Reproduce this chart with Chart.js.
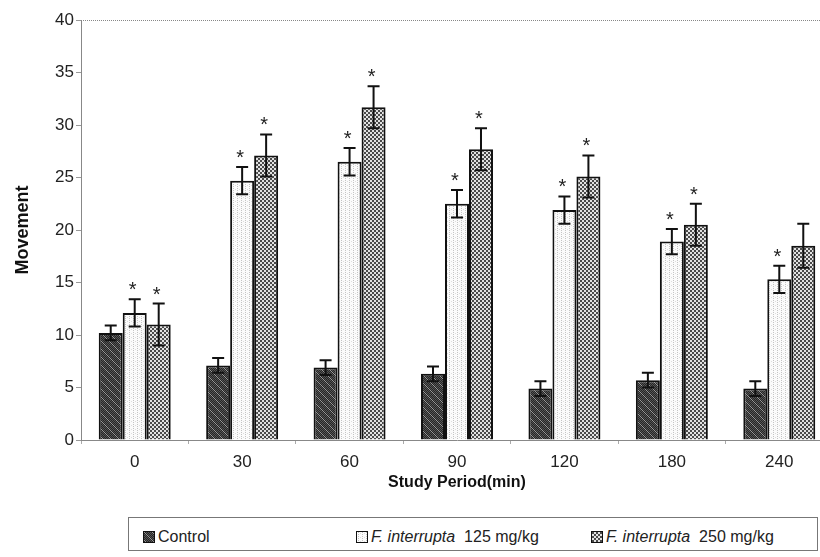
<!DOCTYPE html>
<html>
<head>
<meta charset="utf-8">
<script src="https://cdn.jsdelivr.net/npm/chart.js@4/dist/chart.umd.min.js"></script>
<style>
  body { margin: 0; background: #fff; overflow: hidden; font-family: "Liberation Sans", Arial, sans-serif; }
  #wrap { position: relative; width: 820px; height: 557px; overflow: hidden; }
  #chart { position: absolute; left: 0; top: 0; }
  #legend {
    position: absolute; left: 128px; top: 517px; width: 688px; height: 32px;
    border: 1px solid #777; font-size: 16px; color: #222;
  }
  .item { position: absolute; top: 10px; white-space: nowrap; }
  .sw { display: inline-block; width: 10px; height: 10px; border: 1px solid #111; margin-right: 3px; vertical-align: -1px; }
</style>
</head>
<body>
<div id="wrap">
  <canvas id="chart" width="834" height="492"></canvas>
  <div id="legend"></div>
</div>
<script>
// 横轴类别（分钟）
const periods = ['0', '30', '60', '90', '120', '180', '240'];

// 各组均值
const controlValues = [10.2, 7.1, 6.9, 6.3, 4.9, 5.7, 4.9];
const dose125Values = [12.1, 24.7, 26.5, 22.5, 21.9, 18.9, 15.3];
const dose250Values = [11.0, 27.1, 31.7, 27.7, 25.1, 20.5, 18.5];

// 误差（SEM）
const controlErrors = [0.7, 0.7, 0.7, 0.7, 0.7, 0.7, 0.7];
const dose125Errors = [1.3, 1.3, 1.3, 1.3, 1.3, 1.2, 1.3];
const dose250Errors = [2.0, 2.0, 2.0, 2.0, 2.0, 2.0, 2.1];

// 显著性标记
const controlStars = [0, 0, 0, 0, 0, 0, 0];
const dose125Stars = [1, 1, 1, 1, 1, 1, 1];
const dose250Stars = [1, 1, 1, 1, 1, 1, 0];

const yTicks = [0, 5, 10, 15, 20, 25, 30, 35, 40];

/**
 * 生成填充图案
 */
function makeTile(kind) {
    const c = document.createElement('canvas');
    const g = c.getContext('2d');
    if (kind === 'control') {
        c.width = 8; c.height = 8;
        for (let i = 0; i < 8; i++) {
            for (let j = 0; j < 8; j++) {
                g.fillStyle = (i + j) % 2 ? '#262626' : '#555';
                g.fillRect(i, j, 1, 1);
            }
        }
        g.fillStyle = '#999';
        for (let k = 0; k < 8; k++) g.fillRect(k, k, 1, 1);
    } else if (kind === 'd125') {
        c.width = 4; c.height = 4;
        g.fillStyle = '#fbfbfb';
        g.fillRect(0, 0, 4, 4);
        g.fillStyle = '#c4c4c4';
        g.fillRect(1, 0, 1, 1);
        g.fillRect(1, 2, 1, 1);
        g.fillStyle = '#dedede';
        g.fillRect(3, 1, 1, 1);
    } else {
        c.width = 4; c.height = 4;
        g.fillStyle = '#e2e2e2';
        g.fillRect(0, 0, 4, 4);
        g.fillStyle = '#4a4a4a';
        g.fillRect(0, 0, 2, 2);
        g.fillRect(2, 2, 2, 2);
    }
    return c;
}

const ctx = document.getElementById('chart').getContext('2d');
const tiles = { control: makeTile('control'), d125: makeTile('d125'), d250: makeTile('d250') };
const patterns = {
    control: ctx.createPattern(tiles.control, 'repeat'),
    d125: ctx.createPattern(tiles.d125, 'repeat'),
    d250: ctx.createPattern(tiles.d250, 'repeat')
};

// 误差线与星号
const errorBarPlugin = {
    id: 'errorBars',
    afterDatasetsDraw(chart) {
        const c = chart.ctx;
        const y = chart.scales.y;
        c.save();
        chart.data.datasets.forEach((ds, i) => {
            const meta = chart.getDatasetMeta(i);
            meta.data.forEach((bar, j) => {
                const v = ds.data[j];
                const e = ds.errors[j];
                const top = y.getPixelForValue(v + e);
                const bot = y.getPixelForValue(v - e);
                c.strokeStyle = '#111';
                c.lineWidth = 2;
                c.beginPath();
                c.moveTo(bar.x, bot);
                c.lineTo(bar.x, top);
                c.moveTo(bar.x - 6, top);
                c.lineTo(bar.x + 6, top);
                c.moveTo(bar.x - 6, bot);
                c.lineTo(bar.x + 6, bot);
                c.stroke();
                if (ds.stars[j]) {
                    c.fillStyle = '#222';
                    c.font = '20px "Liberation Sans", Arial, sans-serif';
                    c.textAlign = 'center';
                    c.textBaseline = 'alphabetic';
                    c.fillText('*', bar.x - 2, top - 3);
                }
            });
        });
        c.restore();
    }
};

// 顶部虚线边框
const framePlugin = {
    id: 'frame',
    afterDraw(chart) {
        const a = chart.chartArea;
        const c = chart.ctx;
        c.save();
        c.strokeStyle = '#888';
        c.lineWidth = 1;
        c.setLineDash([1, 1]);
        c.beginPath();
        c.moveTo(a.left, a.top + 0.5);
        c.lineTo(chart.width, a.top + 0.5);
        c.stroke();
        c.restore();
    }
};

const tickFont = { family: '"Liberation Sans", Arial, sans-serif', size: 17 };

new Chart(ctx, {
    type: 'bar',
    data: {
        labels: periods,
        datasets: [{
            label: 'Control',
            data: controlValues,
            errors: controlErrors,
            stars: controlStars,
            backgroundColor: patterns.control,
            borderColor: '#111',
            borderWidth: 2
        }, {
            label: 'F. interrupta 125 mg/kg',
            data: dose125Values,
            errors: dose125Errors,
            stars: dose125Stars,
            backgroundColor: patterns.d125,
            borderColor: '#111',
            borderWidth: 2
        }, {
            label: 'F. interrupta 250 mg/kg',
            data: dose250Values,
            errors: dose250Errors,
            stars: dose250Stars,
            backgroundColor: patterns.d250,
            borderColor: '#111',
            borderWidth: 2
        }]
    },
    options: {
        responsive: false,
        animation: false,
        categoryPercentage: 0.67,
        barPercentage: 1.0,
        layout: { padding: { top: 20, left: 0, right: 1, bottom: 0 } },
        plugins: {
            legend: { display: false },
            tooltip: { enabled: false }
        },
        scales: {
            x: {
                afterFit(scale) { scale.height = 52; },
                border: { color: '#888', dash: [1, 1] },
                grid: { drawOnChartArea: false, tickLength: 4, color: '#aaa' },
                ticks: { font: tickFont, color: '#222', padding: 8 },
                title: {
                    display: true,
                    text: 'Study Period(min)',
                    color: '#111',
                    font: { family: '"Liberation Sans", Arial, sans-serif', size: 16, weight: 'bold' },
                    padding: { top: 1, bottom: 0 }
                }
            },
            y: {
                min: 0,
                max: 40,
                afterFit(scale) { scale.width = 81; },
                afterBuildTicks(scale) { scale.ticks = yTicks.map(v => ({ value: v })); },
                border: { color: '#888', dash: [1, 1] },
                grid: { drawOnChartArea: false, tickLength: 5, color: '#999' },
                ticks: { font: tickFont, color: '#222', padding: 2 },
                title: {
                    display: true,
                    text: 'Movement',
                    color: '#111',
                    font: { family: '"Liberation Sans", Arial, sans-serif', size: 18, weight: 'bold' },
                    padding: { top: 12, bottom: 0 }
                }
            }
        }
    },
    plugins: [errorBarPlugin, framePlugin]
});

// HTML图例（部分斜体）
const legendItems = [
    { tile: tiles.control, left: 14, html: 'Control' },
    { tile: tiles.d125, left: 227, html: '<i>F. interrupta</i>&nbsp; 125 mg/kg' },
    { tile: tiles.d250, left: 462, html: '<i>F. interrupta</i>&nbsp; 250 mg/kg' }
];
const legend = document.getElementById('legend');
legendItems.forEach(it => {
    const div = document.createElement('div');
    div.className = 'item';
    div.style.left = it.left + 'px';
    div.innerHTML = '<span class="sw" style="background-image:url(' + it.tile.toDataURL() + ')"></span>' + it.html;
    legend.appendChild(div);
});
</script>
</body>
</html>
